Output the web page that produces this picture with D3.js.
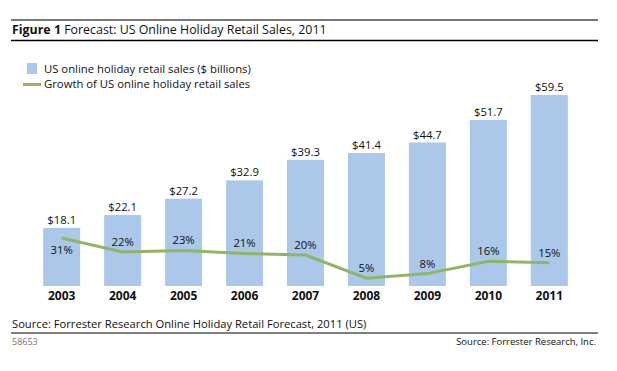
<!DOCTYPE html>
<html>
<head>
<meta charset="utf-8">
<style>
    body { margin: 0; background: #fff; }
    svg text { font-family: 'Open Sans', sans-serif; fill: #111; }
</style>
</head>
<body>
<div id="chart"></div>
<script src="https://cdn.jsdelivr.net/npm/d3@7"></script>
<script>
    var years = ['2003', '2004', '2005', '2006', '2007', '2008', '2009', '2010', '2011'];
    var sales = [18.1, 22.1, 27.2, 32.9, 39.3, 41.4, 44.7, 51.7, 59.5];
    var growth = [0.31, 0.22, 0.23, 0.21, 0.20, 0.05, 0.08, 0.16, 0.15];

    var width = 617,
        height = 371,
        base_y = 286,
        bar_clr = '#abc7e9',
        line_clr = '#8fb663';

    var svg = d3.select('#chart')
        .append('svg')
        .attr('width', width)
        .attr('height', height);

    // header rules + title
    svg.append('line')
        .attr('x1', 11).attr('x2', 598)
        .attr('y1', 20).attr('y2', 20)
        .attr('stroke', '#7a7a7a').attr('stroke-width', 2);

    var title = svg.append('text')
        .attr('x', 12)
        .attr('y', 34)
        .attr('font-size', 12.4);
    title.append('tspan').attr('font-weight', 'bold').text('Figure 1');
    title.append('tspan').text(' Forecast: US Online Holiday Retail Sales, 2011');

    svg.append('line')
        .attr('x1', 11).attr('x2', 598)
        .attr('y1', 40.5).attr('y2', 40.5)
        .attr('stroke', '#000').attr('stroke-width', 1.5);

    // legend
    svg.append('rect')
        .attr('x', 27).attr('y', 63)
        .attr('width', 10).attr('height', 11)
        .attr('fill', bar_clr);
    svg.append('text')
        .attr('x', 44).attr('y', 73)
        .attr('font-size', 11.3)
        .text('US online holiday retail sales ($ billions)');
    svg.append('line')
        .attr('x1', 23).attr('x2', 41)
        .attr('y1', 84.5).attr('y2', 84.5)
        .attr('stroke', line_clr).attr('stroke-width', 3);
    svg.append('text')
        .attr('x', 44).attr('y', 88)
        .attr('font-size', 11.3)
        .text('Growth of US online holiday retail sales');

    // scales
    var x_scale = d3.scaleBand()
        .domain(years)
        .range([31, 580])
        .paddingInner(0.393)
        .paddingOuter(0.2);

    var y_scale = d3.scaleLinear()
        .domain([0, 59.5])
        .range([base_y, 95]);

    var g_scale = d3.scaleLinear()
        .domain([0, 0.31])
        .range([base_y, 238]);

    // bars
    svg.selectAll('rect.bar')
        .data(years)
        .enter().append('rect')
        .attr('class', 'bar')
        .attr('x', function(d){ return x_scale(d); })
        .attr('width', x_scale.bandwidth())
        .attr('y', function(d, i){ return y_scale(sales[i]); })
        .attr('height', function(d, i){ return base_y - y_scale(sales[i]); })
        .attr('fill', bar_clr);

    svg.selectAll('text.val')
        .data(years)
        .enter().append('text')
        .attr('class', 'val')
        .attr('x', function(d){ return x_scale(d) + x_scale.bandwidth()/2; })
        .attr('y', function(d, i){ return y_scale(sales[i]) - 4; })
        .attr('text-anchor', 'middle')
        .attr('font-size', 11.3)
        .text(function(d, i){ return '$' + sales[i].toFixed(1); });

    // growth line
    var line = d3.line()
        .x(function(d, i){ return x_scale(years[i]) + x_scale.bandwidth()/2; })
        .y(function(d){ return g_scale(d); });

    svg.append('path')
        .datum(growth)
        .attr('d', line)
        .attr('fill', 'none')
        .attr('stroke', line_clr)
        .attr('stroke-width', 3);

    svg.selectAll('text.pct')
        .data(growth)
        .enter().append('text')
        .attr('class', 'pct')
        .attr('x', function(d, i){ return x_scale(years[i]) + x_scale.bandwidth()/2; })
        .attr('y', function(d, i){ return i == 0 ? g_scale(d) + 16 : g_scale(d) - 6; })
        .attr('text-anchor', 'middle')
        .attr('font-size', 11.3)
        .text(function(d){ return Math.round(d * 100) + '%'; });

    // x axis labels
    var x_axis = svg.append('g')
        .attr('transform', 'translate(0,' + base_y + ')')
        .call(d3.axisBottom(x_scale).tickSize(0).tickPadding(5));
    x_axis.select('.domain').remove();
    x_axis.selectAll('text')
        .attr('font-family', "'Open Sans', sans-serif")
        .attr('font-size', 12)
        .attr('font-weight', 'bold')
        .attr('fill', '#111');

    // footer
    svg.append('text')
        .attr('x', 12).attr('y', 328)
        .attr('font-size', 11.2)
        .text('Source: Forrester Research Online Holiday Retail Forecast, 2011 (US)');
    svg.append('line')
        .attr('x1', 11).attr('x2', 598)
        .attr('y1', 333).attr('y2', 333)
        .attr('stroke', '#000').attr('stroke-width', 1);
    svg.append('text')
        .attr('x', 12).attr('y', 345)
        .attr('font-size', 9)
        .style('fill', '#777')
        .text('58653');
    svg.append('text')
        .attr('x', 596).attr('y', 345)
        .attr('text-anchor', 'end')
        .attr('font-size', 9.5)
        .text('Source: Forrester Research, Inc.');
</script>
</body>
</html>
